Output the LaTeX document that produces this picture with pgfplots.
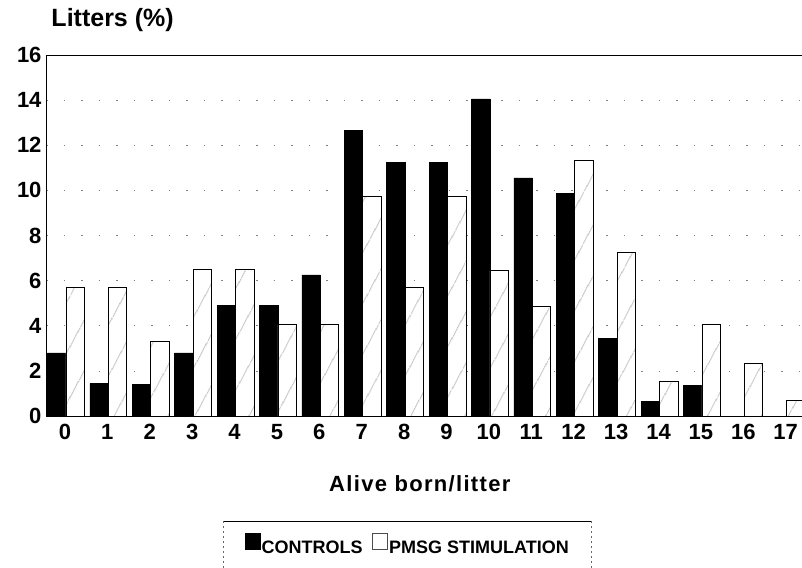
\documentclass[border=0pt]{standalone}
\usepackage{fontspec}
\setmainfont{Liberation Sans}
\newfontfamily\widefont{Liberation Sans}[LetterSpace=6]
\usepackage{pgfplots}
\pgfplotsset{compat=1.18}
\usetikzlibrary{patterns.meta}

\pgfplotstableread{
x ctrl pmsg
0 2.8 5.7
1 1.45 5.7
2 1.4 3.3
3 2.8 6.5
4 4.9 6.5
5 4.9 4.05
6 6.25 4.05
7 12.65 9.75
8 11.25 5.7
9 11.25 9.75
10 14.05 6.45
11 10.55 4.85
12 9.85 11.35
13 3.45 7.25
14 0.65 1.55
15 1.35 4.05
16 0 2.35
17 0 0.7
}\datatable

\begin{document}
\begin{tikzpicture}
\begin{axis}[
  name=ax,
  scale only axis,
  width=759.8bp, height=361bp,
  xmin=-0.47, xmax=17.45,
  ymin=0, ymax=16,
  axis x line=box, axis y line=left,
  axis line style={-, line width=0.8bp},
  ytick={0,2,...,16},
  xtick={0,...,17},
  major tick length=0pt,
  /pgf/number format/assume math mode=true,
  tick label style={font=\fontsize{22bp}{22bp}\selectfont\bfseries},
  yticklabel style={xshift=-1bp},
  xticklabel style={yshift=-5bp, xshift=-1bp},
  ymajorgrids,
  grid style={black!50, line width=0.6bp, dash pattern=on 1.5bp off 16bp},
  ybar,
  bar width=0.436,
  title={Litters (\%)},
  title style={at={(axis description cs:0.0026,1.061)}, anchor=base west, font=\fontsize{25bp}{25bp}\selectfont\bfseries},
  xlabel={Alive born/litter},
  xlabel style={at={(axis description cs:0.492,-0.2078)}, anchor=base, font=\fontsize{22bp}{22bp}\selectfont\bfseries\widefont},
  legend columns=2,
  legend style={draw=none, fill=none, at={(axis description cs:0.4758,-0.357)}, anchor=center,
    font=\fontsize{18bp}{18bp}\selectfont\bfseries,
    /tikz/every even column/.append style={column sep=8bp},
    nodes={inner xsep=1.5bp}},
]
\addplot[bar shift=-0.218, fill=black, draw=black, line width=0.6bp,
  legend image code/.code={\draw[fill=black, draw=black] (0bp,-2bp) rectangle (15bp,14bp);}]
  table[x=x, y=ctrl] {\datatable};
\addplot[bar shift=0.218, fill=white, draw=black, line width=0.7bp,
  postaction={pattern={Lines[angle=62, distance=24bp, line width=0.6bp]}, pattern color=black!65},
  legend image code/.code={\draw[fill=white, draw=black!70, line width=0.5bp] (0bp,-2bp) rectangle (15bp,14bp);}]
  table[x=x, y=pmsg] {\datatable};
\legend{CONTROLS, PMSG STIMULATION}
\end{axis}
\draw[line width=0.8bp] ([shift={(177bp,-105bp)}]ax.south west) -- ([shift={(545bp,-105bp)}]ax.south west);
\draw[black!60, line width=0.5bp, dash pattern=on 2bp off 3bp] ([shift={(177bp,-105bp)}]ax.south west) -- ([shift={(177bp,-165bp)}]ax.south west);
\draw[black!60, line width=0.5bp, dash pattern=on 2bp off 3bp] ([shift={(545bp,-105bp)}]ax.south west) -- ([shift={(545bp,-165bp)}]ax.south west);
\pgfresetboundingbox
\path[use as bounding box] ([shift={(-46bp,-152bp)}]ax.south west) rectangle ([shift={(756bp,416bp)}]ax.south west);
\end{tikzpicture}
\end{document}
